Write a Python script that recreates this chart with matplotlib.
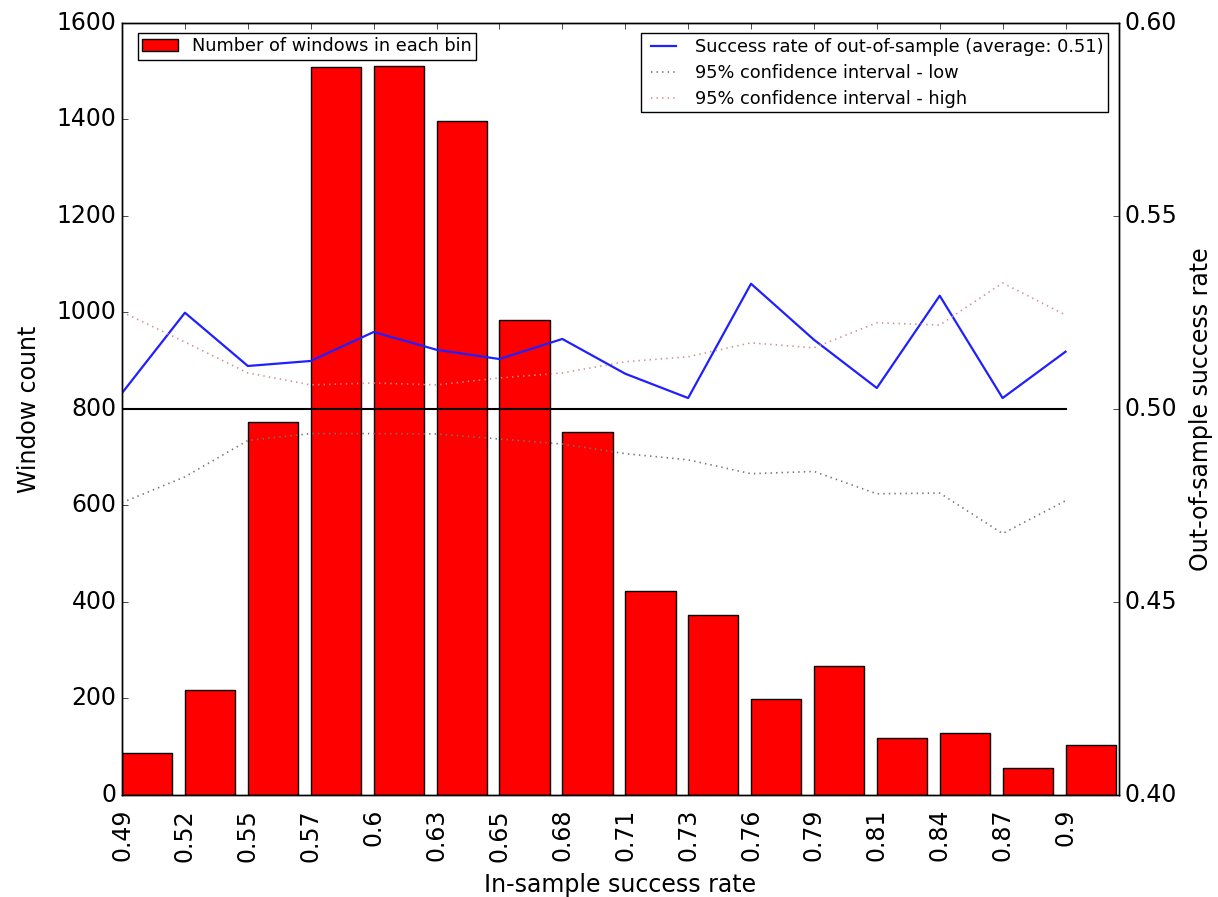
import matplotlib
matplotlib.use('Agg')
import matplotlib.pyplot as plt
import numpy as np

# in-sample success-rate bins and window counts per bin
bin_labels = ['0.49', '0.52', '0.55', '0.57', '0.6', '0.63', '0.65', '0.68',
              '0.71', '0.73', '0.76', '0.79', '0.81', '0.84', '0.87', '0.9']
window_counts = [87, 217, 773, 1508, 1510, 1396, 984, 752,
                 423, 373, 199, 267, 118, 128, 56, 104]

# out-of-sample success rate per bin and the 95% band around 0.5
oos_rate = [0.5041, 0.5249, 0.5111, 0.5124, 0.5199, 0.5153, 0.5129, 0.5181,
            0.5091, 0.5028, 0.5324, 0.5179, 0.5054, 0.5293, 0.5028, 0.5148]
ci_low = [0.4757, 0.4824, 0.4918, 0.4936, 0.4936, 0.4935, 0.4922, 0.4909,
          0.4884, 0.4868, 0.4832, 0.4838, 0.4780, 0.4782, 0.4677, 0.4762]
ci_high = [0.5251, 0.5173, 0.5093, 0.5062, 0.5067, 0.5062, 0.5080, 0.5093,
           0.5122, 0.5135, 0.5171, 0.5158, 0.5223, 0.5217, 0.5326, 0.5243]
baseline = 0.5
avg_rate = 0.51

plt.style.use('classic')
plt.rcParams['font.family'] = ['DejaVu Sans']

x = np.arange(len(bin_labels))

fig = plt.figure(figsize=(12.18, 8.97), dpi=100, facecolor='white')
ax1 = fig.add_axes([0.1002, 0.1137, 0.8185, 0.861])
ax1.set_facecolor('white')
ax1.bar(x, window_counts, width=0.8, align='edge', color='#ff0000',
        edgecolor='black', linewidth=1.0, label='Number of windows in each bin')
ax1.set_xlim(0, 15.85)
ax1.set_ylim(0, 1600)
ax1.set_xticks(x)
ax1.set_xticklabels(bin_labels, rotation=90)
ax1.tick_params(labelsize=17)
ax1.tick_params(axis='x', pad=10)
ax1.set_xlabel('In-sample success rate', fontsize=17, labelpad=8)
ax1.set_ylabel('Window count', fontsize=17, labelpad=11)
ax1.legend(loc='upper left', fontsize=12.8, bbox_to_anchor=(0.016, 0.987),
           borderaxespad=0, borderpad=0.25, labelspacing=0.45)

ax2 = ax1.twinx()
ax2.plot(x, oos_rate, color='#2020ff', lw=1.6,
         label='Success rate of out-of-sample (average: %.2f)' % avg_rate)
ax2.plot(x, ci_low, color='0.45', ls=':', lw=1.2,
         label='95% confidence interval - low')
ax2.plot(x, ci_high, color='#d09090', ls=':', lw=1.2,
         label='95% confidence interval - high')
ax2.plot([x[0], x[-1]], [baseline, baseline], color='black', lw=1.5)
ax2.set_ylim(0.40, 0.60)
ax2.set_yticks(np.arange(0.40, 0.601, 0.05))
ax2.yaxis.set_major_formatter(matplotlib.ticker.FormatStrFormatter('%.2f'))
ax2.tick_params(labelsize=17)
ax2.set_ylabel('Out-of-sample success rate', fontsize=17, labelpad=8)
ax2.legend(loc='upper right', fontsize=12.8, borderaxespad=0.6,
           borderpad=0.25, labelspacing=0.45)

fig.savefig('out.png', dpi=100, facecolor='white')
